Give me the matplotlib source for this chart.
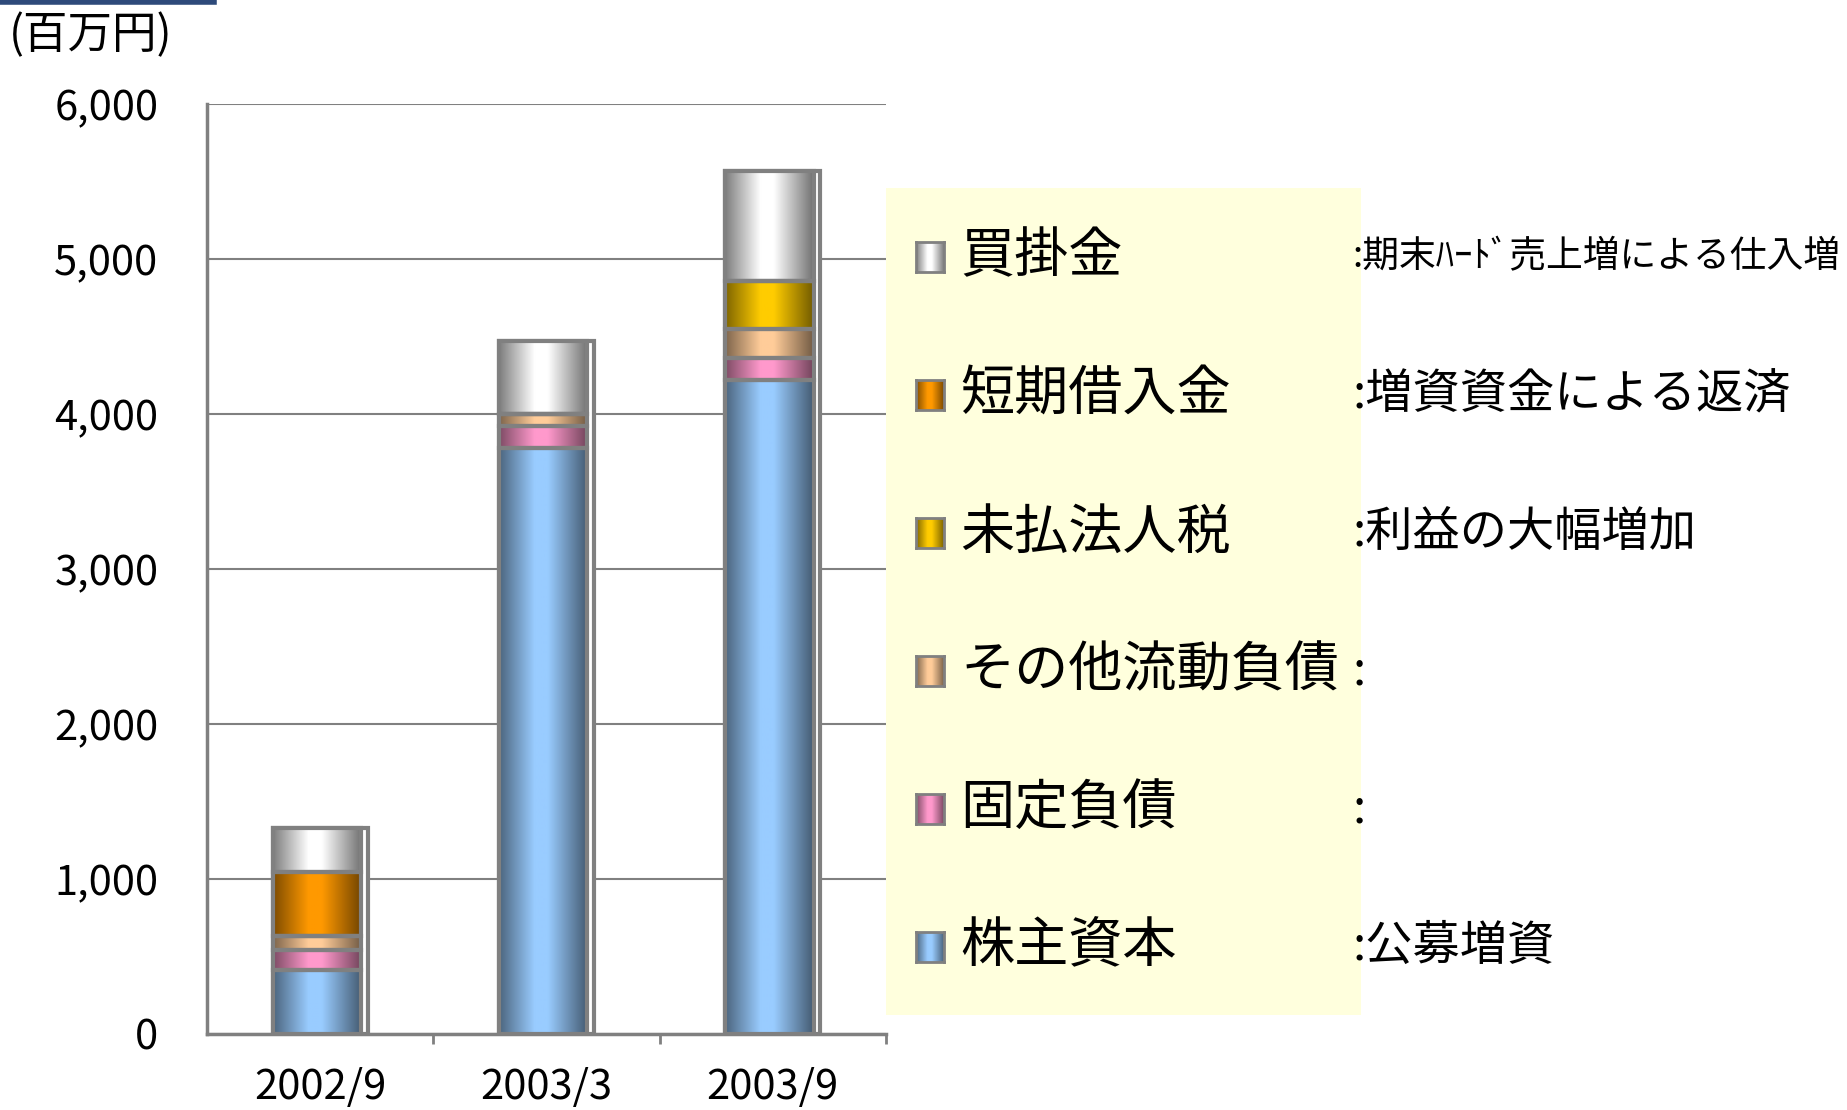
import numpy as np
import matplotlib
matplotlib.use('Agg')
import matplotlib.pyplot as plt
from matplotlib.colors import to_rgb
from matplotlib.patches import Rectangle
from matplotlib.lines import Line2D

plt.rcParams['font.family'] = ['Noto Sans CJK JP', 'DejaVu Sans']

# data (百万円), stacked bottom -> top
periods = ['2002/9', '2003/3', '2003/9']
items = ['株主資本', '固定負債', 'その他流動負債', '未払法人税', '短期借入金', '買掛金']
kabunushi = [410, 3780, 4220]
kotei = [130, 140, 140]
sonota = [90, 80, 190]
mibarai = [0, 0, 310]
tanki = [415, 0, 0]
kaikake = [285, 470, 710]
colors = ['#99CCFF', '#FF99CC', '#FFCC99', '#FFCC00', '#FF9900', '#FFFFFF']
notes = ['公募増資', '', '', '利益の大幅増加', '増資資金による返済', '期末ﾊｰﾄﾞ売上増による仕入増']

series = [kabunushi, kotei, sonota, mibarai, tanki, kaikake]
edge = '#808080'


def shade(color, n=64):
    # horizontal cylinder-like shading
    t = np.linspace(0, 1, n)
    f = np.interp(t, [0, 0.4, 0.55, 1], [0.5, 1.0, 1.0, 0.45])
    rgb = np.array(to_rgb(color))
    return np.clip(rgb[None, :] * f[:, None], 0, 1)[None, :, :]


fig = plt.figure(figsize=(18.47, 11.10), dpi=100)
ax = fig.add_axes([0.1121, 0.0685, 0.3676, 0.8378])

x = np.arange(len(periods))
totals = np.sum(series, axis=0)

# outer frame (gives the little side face on the right)
ax.bar(x, totals, width=0.42, color='white', edgecolor=edge, lw=3, zorder=2)

bottom = np.zeros(len(periods))
for vals, c in zip(series, colors):
    for xi, v, b in zip(x, vals, bottom):
        if v > 0:
            ax.imshow(shade(c), extent=[xi - 0.21, xi + 0.18, b, b + v],
                      aspect='auto', interpolation='bilinear', zorder=3)
    ax.bar(x - 0.21, vals, width=0.39, bottom=bottom, align='edge',
           fill=False, edgecolor=edge, lw=3, zorder=4)
    bottom += np.array(vals)

ax.set_xlim(-0.5, 2.5)
ax.set_ylim(0, 6000)
ax.set_yticks(range(0, 6001, 1000))
ax.set_yticklabels([f'{v:,}' for v in range(0, 6001, 1000)], fontsize=30)
ax.set_xticks(x)
ax.set_xticklabels(periods, fontsize=30)
ax.set_xticks([0.5, 1.5, 2.5], minor=True)
ax.tick_params(axis='y', length=0, pad=35)
ax.tick_params(axis='x', which='major', length=0, pad=24)
ax.tick_params(axis='x', which='minor', length=7, width=2, color=edge)
ax.yaxis.grid(True, color=edge, lw=1.5)
ax.set_axisbelow(True)
for s in ['top', 'right']:
    ax.spines[s].set_visible(False)
for s in ['left', 'bottom']:
    ax.spines[s].set_color(edge)
    ax.spines[s].set_linewidth(2.5)

# legend panel
fig.add_artist(Rectangle((0.4797, 0.0856), 0.2572, 0.745, transform=fig.transFigure,
                         facecolor='#FFFFDD', edgecolor='none', zorder=0))
for i, k in enumerate(range(len(items) - 1, -1, -1)):
    yc = 0.7685 - i * 0.1243
    m = fig.add_axes([916 / 1847, yc - 15 / 1110, 28 / 1847, 30 / 1110])
    m.imshow(shade(colors[k]), aspect='auto', interpolation='bilinear')
    m.set_xticks([])
    m.set_yticks([])
    for s in m.spines.values():
        s.set_color(edge)
        s.set_linewidth(2)
    fig.text(0.5198, yc, items[k], fontsize=39, va='center', ha='left')
    fig.text(0.732, yc, ':' + notes[k], fontsize=26.5 if len(notes[k]) > 10 else 34,
             va='center', ha='left')

fig.text(0.005, 0.9685, '(百万円)', fontsize=32, va='center', ha='left')
fig.add_artist(Line2D([0, 214 / 1847], [0.998, 0.998], color='#2E4A7A', lw=4))

fig.savefig('out.png', dpi=100)
